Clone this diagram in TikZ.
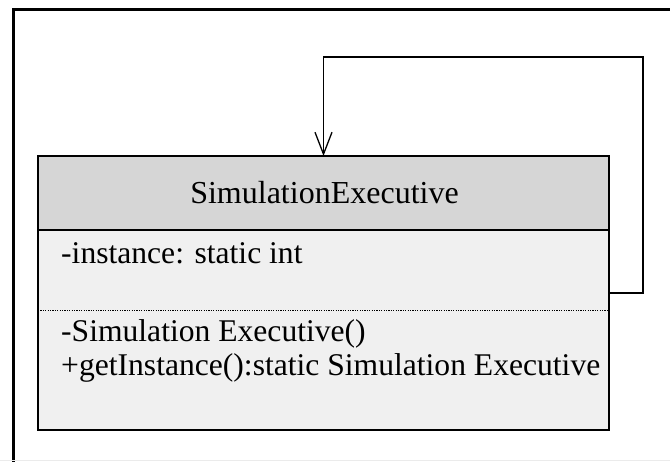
\documentclass[tikz,border=0pt]{standalone}
\usepackage{fontspec}
\setmainfont{Liberation Serif}
\usetikzlibrary{arrows.meta}
\begin{document}
\begin{tikzpicture}[x=1pt,y=-1pt,
  box/.style={draw=black,line width=1.3pt,minimum width=571pt,inner sep=0pt,outer sep=0pt},
  txt/.style={font=\fontsize{31.6}{36}\selectfont,inner sep=0pt,anchor=base west},
  conn/.style={draw=black,line width=1.3pt},
  arr/.style={-{Straight Barb[length=22pt,width=17pt,line width=1.3pt]}}]
\useasboundingbox (0,0) rectangle (670,462);
\draw[line width=3pt] (13,463) -- (13,9.5) -- (671,9.5);
\draw[black!8,line width=1pt] (0,461) -- (670,461);
\node[box,fill=black!16,minimum height=74pt] (hdr) at (323.5,193) {};
\node[box,fill=black!6,minimum height=200pt] (body) at (323.5,330) {};
\node[font=\fontsize{32}{36}\selectfont,inner sep=0pt,anchor=base] (name) at (324.5,204) {SimulationExecutive};
\draw[line width=1pt,dash pattern=on 1.2pt off 1.2pt] (body.west |- 0,311) coordinate (dl) -- (body.east |- 0,311) coordinate (dr);
\node[txt] (a1) at (61,264) {-instance: static int};
\node[txt] (m1) at (61,342) {-Simulation Executive()};
\node[txt] (m2) at (61,376) {+getInstance():static Simulation Executive};
\coordinate (ls) at (body.east |- 0,293);
\draw[conn,arr] (ls) -| (643,57) -| (hdr.north);
\end{tikzpicture}
\end{document}
